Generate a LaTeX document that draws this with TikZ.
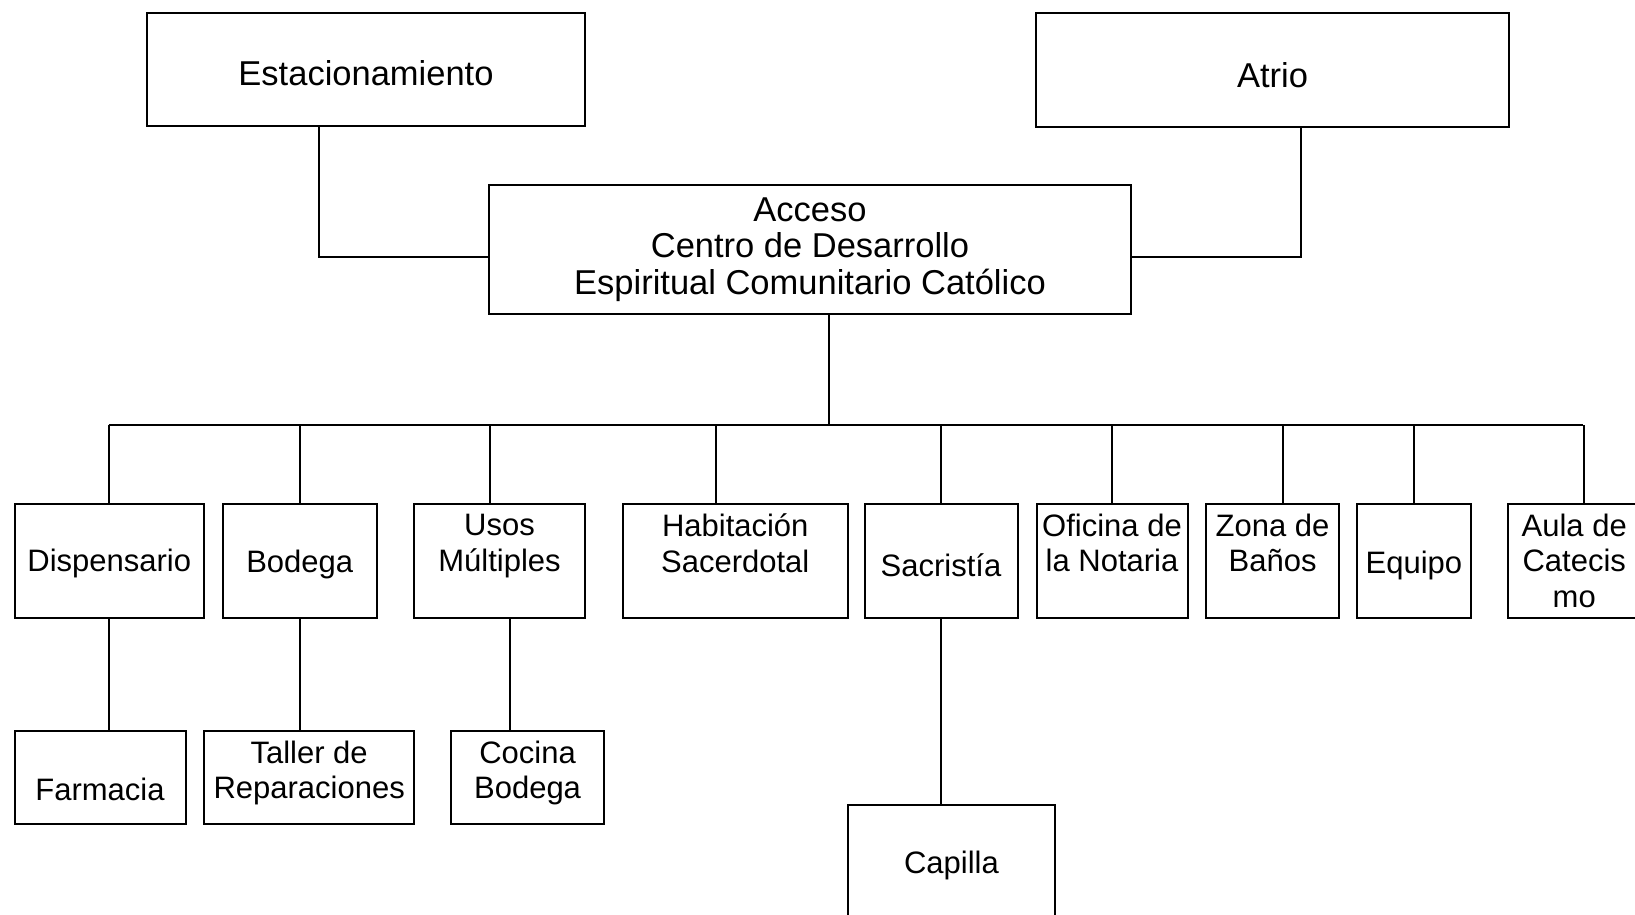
\documentclass[tikz,border=0pt]{standalone}
\usepackage{fontspec}
\setmainfont{Liberation Sans}
\newcommand{\lowtxt}[2]{\raisebox{-#1pt}[22pt][6pt]{#2}}
\begin{document}
\begin{tikzpicture}[x=1pt,y=-1pt,
  box/.style={draw, line width=2pt, anchor=north west, align=center, inner sep=0pt},
  big/.style={font=\fontsize{34.5}{36.5}\selectfont},
  small/.style={font=\fontsize{31}{35.5}\selectfont},
  conn/.style={line width=2pt}]
\useasboundingbox (0,0) rectangle (1635,915);

% top level
\node[box,big,minimum width=438pt,minimum height=112.5pt] (estac) at (146,12.5) {\lowtxt{8}{Estacionamiento}};
\node[box,big,minimum width=473pt,minimum height=113.5pt] (atrio) at (1035,12.5) {\lowtxt{9}{Atrio}};
\node[box,big,minimum width=642pt,minimum height=129.5pt] (acceso) at (488,183.5) {Acceso\\Centro de Desarrollo\\Espiritual Comunitario Católico};

% row 1
\node[box,small,minimum width=189.5pt,minimum height=114.5pt] (dispensario) at (13.5,502.5) {\lowtxt{3}{Dispensario}};
\node[box,small,minimum width=153.5pt,minimum height=114.5pt] (bodega) at (222,502.5) {\lowtxt{4}{Bodega}};
\node[box,small,minimum width=171pt,minimum height=114.5pt] (usos) at (413,502.5) {Usos\\Múltiples\\~};
\node[box,small,minimum width=225.5pt,minimum height=114.5pt] (habitacion) at (621.5,502.5) {Habitación\\Sacerdotal\\~};
\node[box,small,minimum width=153pt,minimum height=114.5pt] (sacristia) at (863.5,502.5) {\lowtxt{8}{Sacristía}};
\node[box,small,minimum width=151pt,minimum height=114.5pt] (oficina) at (1035.5,502.5) {Oficina de\\la Notaria\\~};
\node[box,small,minimum width=132.4pt,minimum height=114.5pt] (zona) at (1205.4,502.5) {Zona de\\Baños\\~};
\node[box,small,minimum width=114.7pt,minimum height=114.5pt] (equipo) at (1355.5,502.5) {\lowtxt{5}{Equipo}};
\node[box,small,minimum width=133pt,minimum height=114.5pt] (aula) at (1506.7,502.5) {Aula de\\Catecis\\mo};

% row 2
\node[box,small,minimum width=171pt,minimum height=92.7pt] (farmacia) at (13.5,730) {\lowtxt{15}{Farmacia}};
\node[box,small,minimum width=209.7pt,minimum height=92.7pt] (taller) at (203.3,730) {Taller de\\Reparaciones\\[-20pt]~};
\node[box,small,minimum width=152.3pt,minimum height=92.7pt] (cocina) at (450.4,730) {Cocina\\Bodega\\[-20pt]~};
\node[box,small,minimum width=207.5pt,minimum height=112pt] (capilla) at (846.7,804) {\lowtxt{4}{Capilla}};

% upper connectors
\draw[conn] ([xshift=-47pt]estac.south) |- ([yshift=-7.5pt]acceso.west);
\draw[conn] ([xshift=28.5pt]atrio.south) |- ([yshift=-8pt]acceso.east);

% bus
\coordinate (busL) at (108.5,425);
\coordinate (busR) at (1583,425);
\draw[conn] ([xshift=19pt]acceso.south) -- ([xshift=19pt]acceso.south |- busL);
\draw[conn] (busL) -- (busR);

% drops
\draw[conn] (dispensario.north) -- (dispensario.north |- busL);
\draw[conn] (bodega.north) -- (bodega.north |- busL);
\draw[conn] ([xshift=-9.5pt]usos.north) -- ([xshift=-9.5pt]usos.north |- busL);
\draw[conn] ([xshift=-19pt]habitacion.north) -- ([xshift=-19pt]habitacion.north |- busL);
\draw[conn] (sacristia.north) -- (sacristia.north |- busL);
\draw[conn] (oficina.north) -- (oficina.north |- busL);
\draw[conn] ([xshift=10pt]zona.north) -- ([xshift=10pt]zona.north |- busL);
\draw[conn] (equipo.north) -- (equipo.north |- busL);
\draw[conn] ([xshift=10pt]aula.north) -- ([xshift=10pt]aula.north |- busL);

% lower connectors
\draw[conn] (dispensario.south) -- (dispensario.south |- farmacia.north);
\draw[conn] (bodega.south) -- (bodega.south |- taller.north);
\draw[conn] ([xshift=10pt]usos.south) -- ([xshift=10pt]usos.south |- cocina.north);
\draw[conn] (sacristia.south) -- (sacristia.south |- capilla.north);
\end{tikzpicture}
\end{document}
